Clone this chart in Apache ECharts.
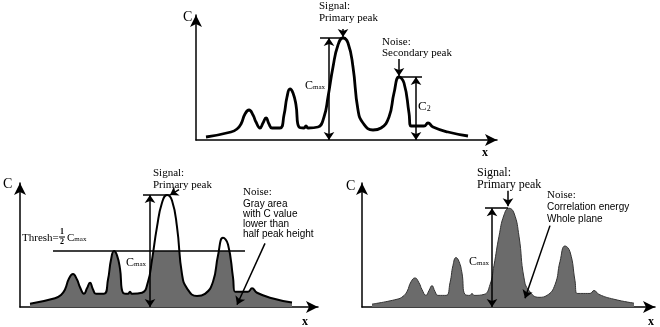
<!DOCTYPE html>
<html>
<head>
<meta charset="utf-8">
<script src="https://cdn.jsdelivr.net/npm/echarts@6/dist/echarts.min.js"></script>
<style>
  html, body { margin: 0; padding: 0; background: #fff; }
  #chart { width: 660px; height: 327px; }
</style>
</head>
<body>
<div id="chart"></div>
<script>
// correlation curve, sampled along x (same shape in all three panels)
var xPos = [10, 35, 41, 45, 49, 53, 57, 60, 64, 67, 70, 73, 76, 84, 88, 91, 94, 97, 100, 103,
  108, 110, 112, 122, 128, 132, 137, 142, 147, 152, 157, 162, 167, 177, 185, 193, 198, 203, 208, 213,
  215, 228, 232, 237, 252, 272]
var cVal = [3, 8, 11, 16, 26, 30, 25, 18, 12, 17, 22, 16, 12, 12, 25, 43, 51, 47, 35, 13,
  12, 14, 12, 13, 23, 43, 73, 95, 102, 97, 73, 30, 17, 10, 12, 23, 47, 63, 57, 27,
  14, 14, 17, 13, 8, 4]
var cMax = 102
var c2 = 63
var thresh = cMax / 2

var curve = xPos.map(function (x, i) { return [x, cVal[i]] })

var serif = '"Liberation Serif", "DejaVu Serif", serif'
var sans = '"Liberation Sans", Arial, sans-serif'
var gray = '#6b6b6b'

// panel boxes: top, bottom-left, bottom-right
var boxes = [
  { left: 196, top: 15, width: 301, height: 125 },
  { left: 20, top: 183, width: 298, height: 124 },
  { left: 362, top: 183, width: 293, height: 124 }
]
var yMax = [125, 113, 128]

function axisX(i) {
  return {
    type: 'value', gridIndex: i, min: 0, max: boxes[i].width,
    axisLine: { symbol: ['none', 'arrow'], symbolSize: [9, 12], lineStyle: { color: '#000', width: 1.5 } },
    axisTick: { show: false }, axisLabel: { show: false }, splitLine: { show: false }
  }
}
function axisY(i) {
  return {
    type: 'value', gridIndex: i, min: 0, max: yMax[i],
    axisLine: { show: true, symbol: ['none', 'arrow'], symbolSize: [9, 12], lineStyle: { color: '#000', width: 1.5 } },
    axisTick: { show: false }, axisLabel: { show: false }, splitLine: { show: false }
  }
}
function seg(x1, y1, x2, y2, s1, s2) {
  return [{ coord: [x1, y1], symbol: s1 || 'none' }, { coord: [x2, y2], symbol: s2 || 'none' }]
}
function marks(list) {
  return {
    silent: true, animation: false, symbolSize: 8,
    label: { show: false },
    lineStyle: { color: '#000', width: 1.5, type: 'solid' },
    emphasis: { disabled: true },
    data: list
  }
}
function txt(x, y, s, font, align) {
  return { type: 'text', x: x, y: y, style: { text: s, font: font, fill: '#000', align: align || 'left', verticalAlign: 'middle' } }
}
function subTxt(x, y, main, sub, size, subSize) {
  return {
    type: 'text', x: x, y: y,
    style: {
      text: '{c|' + main + '}{s|' + sub + '}', verticalAlign: 'middle', fill: '#000',
      rich: {
        c: { fontFamily: serif, fontSize: size, verticalAlign: 'bottom' },
        s: { fontFamily: serif, fontSize: subSize, verticalAlign: 'bottom', padding: [0, 0, 1, 0] }
      }
    }
  }
}

var chart = echarts.init(document.getElementById('chart'))
chart.setOption({
  animation: false,
  grid: boxes,
  xAxis: [axisX(0), axisX(1), axisX(2)],
  yAxis: [axisY(0), axisY(1), axisY(2)],
  series: [
    {
      // top: primary and secondary peak
      type: 'line', xAxisIndex: 0, yAxisIndex: 0, data: curve,
      smooth: 0.5, showSymbol: false, silent: true,
      lineStyle: { color: '#000', width: 2.8 },
      markLine: marks([
        seg(124, cMax, 150, cMax),
        seg(133, 0, 133, cMax, 'arrow', 'arrow'),
        seg(147, 111, 147, cMax + 1, 'none', 'arrow'),
        seg(202, c2, 226, c2),
        seg(220, 0, 220, c2, 'arrow', 'arrow'),
        seg(203, 81, 203, c2 + 1, 'none', 'arrow')
      ])
    },
    {
      // bottom-left: gray only below half of the peak (area box runs 0..cMax)
      type: 'line', xAxisIndex: 1, yAxisIndex: 1, data: curve, z: 1,
      smooth: 0.5, showSymbol: false, silent: true,
      lineStyle: { width: 0 },
      areaStyle: {
        opacity: 1,
        color: {
          type: 'linear', x: 0, y: 0, x2: 0, y2: 1,
          colorStops: [
            { offset: 0, color: 'rgba(255,255,255,0)' },
            { offset: 1 - thresh / cMax, color: 'rgba(255,255,255,0)' },
            { offset: 1 - thresh / cMax, color: gray },
            { offset: 1, color: gray }
          ]
        }
      }
    },
    {
      type: 'line', xAxisIndex: 1, yAxisIndex: 1, data: curve, z: 3,
      smooth: 0.5, showSymbol: false, silent: true,
      lineStyle: { color: '#000', width: 2 },
      markLine: marks([
        seg(123, cMax, 150, cMax),
        seg(130, 0, 130, cMax, 'arrow', 'arrow'),
        seg(33, thresh, 225, thresh),
        seg(159, 107, 150, cMax, 'none', 'arrow'),
        seg(245, 58, 217, 2, 'none', 'arrow')
      ])
    },
    {
      // bottom-right: whole area gray
      type: 'line', xAxisIndex: 2, yAxisIndex: 2, data: curve,
      smooth: 0.5, showSymbol: false, silent: true,
      lineStyle: { color: '#333', width: 1 },
      areaStyle: { color: gray, opacity: 1 },
      markLine: marks([
        seg(123, cMax, 146, cMax),
        seg(130, 0, 130, cMax, 'arrow', 'arrow'),
        seg(146, 120, 146, cMax + 2, 'none', 'arrow'),
        seg(188, 84, 163, 9, 'none', 'arrow')
      ])
    }
  ],
  graphic: [
    // top panel
    txt(183, 17, 'C', '14px ' + serif),
    txt(482, 153, 'x', 'bold 12px ' + serif),
    txt(319, 6, 'Signal:', '11px ' + serif),
    txt(319, 18, 'Primary peak', '11px ' + serif),
    txt(382, 42, 'Noise:', '11px ' + serif),
    txt(382, 53, 'Secondary peak', '11px ' + serif),
    subTxt(305, 86, 'C', 'max', 12, 7),
    subTxt(418, 107, 'C', '2', 13, 8),
    // bottom-left panel
    txt(3, 184, 'C', '14px ' + serif),
    txt(302, 322, 'x', 'bold 12px ' + serif),
    txt(153, 173, 'Signal:', '11px ' + serif),
    txt(153, 185, 'Primary peak', '11px ' + serif),
    txt(22, 238, 'Thresh=', '11px ' + serif),
    txt(62, 232, '1', 'bold 8px ' + serif, 'center'),
    { type: 'line', shape: { x1: 59, y1: 237, x2: 65, y2: 237 }, style: { stroke: '#000', lineWidth: 1 } },
    txt(62, 242, '2', 'bold 8px ' + serif, 'center'),
    subTxt(67, 238, 'C', 'max', 11, 7),
    subTxt(126, 263, 'C', 'max', 12, 7),
    txt(243, 192, 'Noise:', '11px ' + serif),
    txt(243, 204, 'Gray area', '10px ' + sans),
    txt(243, 214, 'with C value', '10px ' + sans),
    txt(243, 224, 'lower than', '10px ' + sans),
    txt(243, 234, 'half peak height', '10px ' + sans),
    // bottom-right panel
    txt(346, 186, 'C', '14px ' + serif),
    txt(648, 322, 'x', 'bold 12px ' + serif),
    txt(477, 173, 'Signal:', '12px ' + serif),
    txt(477, 185, 'Primary peak', '12px ' + serif),
    subTxt(469, 262, 'C', 'max', 12, 7),
    txt(547, 195, 'Noise:', '11px ' + serif),
    txt(547, 207, 'Correlation energy', '10px ' + sans),
    txt(547, 219, 'Whole plane', '10px ' + sans)
  ]
})
</script>
</body>
</html>
